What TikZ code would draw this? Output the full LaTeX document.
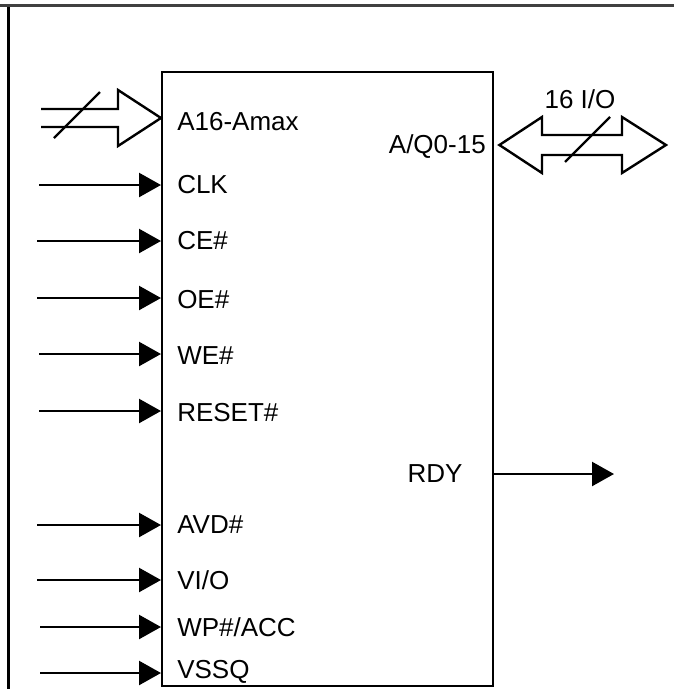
\documentclass[tikz,border=0pt]{standalone}
\usepackage{fontspec}
\setmainfont{Liberation Sans}
\usetikzlibrary{arrows.meta}
\tikzset{
  pin/.style={font=\fontsize{19.5}{23}\selectfont, inner sep=0pt, anchor=west},
  sig/.style={line width=1.8pt, -{Triangle[length=16.5pt,width=18pt]}},
  bus/.style={line width=1.8pt, line join=miter},
  frame/.style={line width=2.25pt},
}
\begin{document}
\begin{tikzpicture}[x=0.75pt,y=-0.75pt]
\useasboundingbox (0,0) rectangle (674,689);
% frame lines
\draw[frame, color=black!75] (0,5.5) -- (674,5.5);
\draw[frame] (8,7) -- (8,689);
% chip body
\node[draw, line width=1.8pt, minimum width=331*0.75pt, minimum height=614*0.75pt, inner sep=0pt, anchor=north west] (chip) at (161,71) {};
% left labels
\node[pin] (lA)    at (177,122) {A16-Amax};
\node[pin] (lCLK)  at (177,185) {CLK};
\node[pin] (lCE)   at (177,241) {CE\#};
\node[pin] (lOE)   at (177,300) {OE\#};
\node[pin] (lWE)   at (177,356) {WE\#};
\node[pin] (lRST)  at (177,413) {RESET\#};
\node[pin] (lAVD)  at (177,525) {AVD\#};
\node[pin] (lVIO)  at (177,580) {VI/O};
\node[pin] (lWP)   at (177,627) {WP\#/ACC};
\node[pin] (lVSSQ) at (177,672) {VSSQ};
% right labels
\node[pin, anchor=east] (lAQ)  at (486,147) {A/Q0-15};
\node[pin, anchor=center] (lRDY) at (435,474) {RDY};
\node[pin, anchor=center] (l16) at (580,99) {16 I/O};
% free ends
\coordinate (sCLK)  at (39,185);
\coordinate (sCE)   at (37,241);
\coordinate (sOE)   at (37,298);
\coordinate (sWE)   at (39,354);
\coordinate (sRST)  at (39,411);
\coordinate (sAVD)  at (37,525);
\coordinate (sVIO)  at (37,580);
\coordinate (sWP)   at (40,627);
\coordinate (sVSSQ) at (40,673);
\coordinate (eRDY)  at (614,474);
% single-line inputs
\foreach \s in {CLK,CE,OE,WE,RST,AVD,VIO,WP,VSSQ}
  \draw[sig] (s\s) -- (chip.west |- s\s);
% output
\draw[sig] (chip.east |- eRDY) -- (eRDY);
% address bus arrow
\draw[bus] (41,109) -- (118,109) -- (118,90) -- (chip.west |- 0,118) -- (118,146) -- (118,127) -- (41,127);
\draw[line width=1.8pt] (54,138) -- (100,92);
% data bus double arrow
\draw[bus] (chip.east |- 0,145) ++(5,0) -- (542,117) -- (542,135) -- (622,135) -- (622,117) -- (666,145) -- (622,173) -- (622,155) -- (542,155) -- (542,173) -- cycle;
\draw[line width=1.8pt] (565,162) -- (610,117);
\end{tikzpicture}
\end{document}
